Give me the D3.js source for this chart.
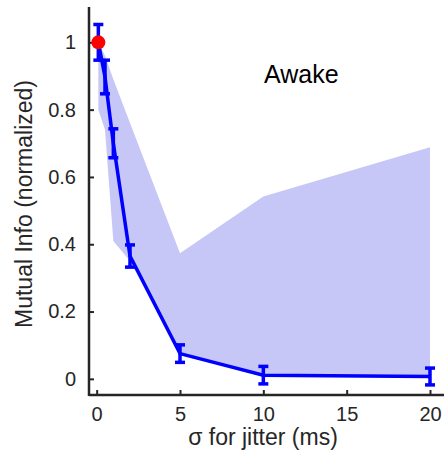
<!DOCTYPE html>
<html>
<head>
<meta charset="utf-8">
<script src="https://cdn.jsdelivr.net/npm/d3@7"></script>
<style>
  body { margin: 0; background: #fff; }
  svg { display: block; font-family: "Liberation Sans", Arial, sans-serif; }
</style>
</head>
<body>
<div id="chart"></div>
<script>
// jitter sigma (ms) and normalized mutual info
var sigma = [0.1, 0.5, 1, 2, 5, 10, 20];
var miMean = [1.0, 0.897, 0.70, 0.365, 0.075, 0.011, 0.007];
var miErr = [0.053, 0.05, 0.043, 0.033, 0.026, 0.026, 0.025];
// shaded range across recordings
var bandUpper = [1.0, 0.96, 0.89, 0.76, 0.373, 0.542, 0.688];
var bandLower = [0.80, 0.74, 0.41, 0.35, 0.07, 0.01, 0.005];
var xTicks = [0, 5, 10, 15, 20];
var yTicks = [0, 0.2, 0.4, 0.6, 0.8, 1];

var width = 444, height = 453;
var axisColor = "#262626";

var svg = d3.select("#chart")
    .append("svg")
    .attr("width", width)
    .attr("height", height);

var x = d3.scaleLinear().domain([-0.46, 21.2]).range([89, 450]);
var y = d3.scaleLinear().domain([-0.048, 1.105]).range([395, 7]);

var rows = sigma.map(function (s, i) {
    return {s: s, m: miMean[i], e: miErr[i], hi: bandUpper[i], lo: bandLower[i]};
});

// band
var area = d3.area()
    .x(function (d) { return x(d.s); })
    .y0(function (d) { return y(d.lo); })
    .y1(function (d) { return y(d.hi); });
svg.append("path")
    .datum(rows)
    .attr("d", area)
    .style("fill", "rgb(198,198,247)");

// axes
var xAxis = d3.axisBottom(x).tickValues(xTicks).tickSizeInner(-5).tickSizeOuter(0).tickPadding(12);
var yAxis = d3.axisLeft(y).tickValues(yTicks).tickSizeInner(-5).tickSizeOuter(0).tickPadding(13)
    .tickFormat(function (d) { return d === 0 || d === 1 ? d3.format("d")(d) : d3.format(".1f")(d); });

var gx = svg.append("g").attr("transform", "translate(0,395)").call(xAxis);
var gy = svg.append("g").attr("transform", "translate(89,0)").call(yAxis);
[gx, gy].forEach(function (g) {
    g.select(".domain").remove();
    g.selectAll(".tick line").style("stroke", axisColor).style("stroke-width", 2);
    g.selectAll(".tick text")
        .style("fill", axisColor)
        .style("font-size", "20px")
        .style("font-family", "Liberation Sans, Arial, sans-serif");
});
svg.append("line")
    .attr("x1", 89).attr("x2", width)
    .attr("y1", 395).attr("y2", 395)
    .style("stroke", axisColor).style("stroke-width", 2.5);
svg.append("line")
    .attr("x1", 89).attr("x2", 89)
    .attr("y1", 7).attr("y2", 396)
    .style("stroke", axisColor).style("stroke-width", 2.5);

// mean line
var line = d3.line()
    .x(function (d) { return x(d.s); })
    .y(function (d) { return y(d.m); });
svg.append("path")
    .datum(rows)
    .attr("d", line)
    .style("fill", "none")
    .style("stroke", "#0000ff")
    .style("stroke-width", 3.5);

// error bars
var eb = svg.append("g").selectAll("g")
    .data(rows)
    .enter().append("g")
    .style("stroke", "#0000ff")
    .style("stroke-width", 3.5);
eb.append("line")
    .attr("x1", function (d) { return x(d.s); })
    .attr("x2", function (d) { return x(d.s); })
    .attr("y1", function (d) { return y(d.m + d.e); })
    .attr("y2", function (d) { return y(d.m - d.e); });
eb.append("line")
    .attr("x1", function (d) { return x(d.s) - 5; })
    .attr("x2", function (d) { return x(d.s) + 5; })
    .attr("y1", function (d) { return y(d.m + d.e); })
    .attr("y2", function (d) { return y(d.m + d.e); });
eb.append("line")
    .attr("x1", function (d) { return x(d.s) - 5; })
    .attr("x2", function (d) { return x(d.s) + 5; })
    .attr("y1", function (d) { return y(d.m - d.e); })
    .attr("y2", function (d) { return y(d.m - d.e); });

// first point marker
svg.append("circle")
    .attr("cx", x(sigma[0]))
    .attr("cy", y(miMean[0]))
    .attr("r", 7)
    .style("fill", "#ff0000");

// labels
svg.append("text")
    .attr("x", 263)
    .attr("y", 445)
    .attr("text-anchor", "middle")
    .style("font-size", "23px")
    .style("fill", axisColor)
    .text("σ for jitter (ms)");
svg.append("text")
    .attr("transform", "translate(32,204) rotate(-90)")
    .attr("text-anchor", "middle")
    .style("font-size", "23px")
    .style("fill", axisColor)
    .text("Mutual Info (normalized)");
svg.append("text")
    .attr("x", 264)
    .attr("y", 83)
    .style("font-size", "25px")
    .style("fill", "#000")
    .text("Awake");
</script>
</body>
</html>
